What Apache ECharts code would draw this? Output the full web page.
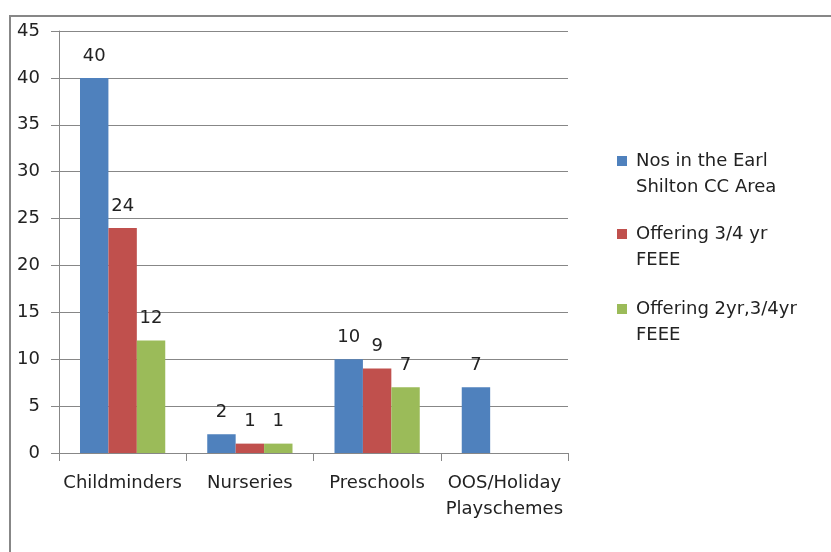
<!DOCTYPE html>
<html>
<head>
<meta charset="utf-8">
<script src="https://cdn.jsdelivr.net/npm/echarts@6/dist/echarts.min.js"></script>
<style>
  html, body { margin: 0; padding: 0; background: #fff; }
  #chart { width: 831px; height: 552px; }
</style>
</head>
<body>
<div id="chart"></div>
<script>
const categories = ['Childminders', 'Nurseries', 'Preschools', 'OOS/Holiday\nPlayschemes']
const seriesNames = [
  'Nos in the Earl\nShilton CC Area',
  'Offering 3/4 yr\nFEEE',
  'Offering 2yr,3/4yr\nFEEE',
]
const nosInArea = [40, 2, 10, 7]
const offering34 = [24, 1, 9, null]
const offering234 = [12, 1, 7, null]
const colors = ['#4F81BD', '#C0504D', '#9BBB59']

const font = 'DejaVu Sans'
const textColor = '#222'
const lineColor = '#878787'

const chart = echarts.init(document.getElementById('chart'))

const values = [nosInArea, offering34, offering234]
const legendTops = [122, 195, 270]

chart.setOption({
  animation: false,
  textStyle: { fontFamily: font },
  grid: { left: 59, top: 31, right: 263, bottom: 99 },
  // one legend per item so the square lines up with the first text line
  legend: seriesNames.map((name, i) => ({
    data: [name],
    orient: 'vertical',
    left: 617,
    top: legendTops[i],
    padding: 0,
    itemWidth: 10,
    itemHeight: 10,
    icon: 'rect',
    selectedMode: false,
    formatter: (n) => '\n' + n,
    textStyle: {
      fontFamily: font,
      fontSize: 18,
      color: textColor,
      lineHeight: 26,
      padding: [0, 0, 0, 4],
    },
  })),
  xAxis: {
    type: 'category',
    data: categories,
    axisLine: { lineStyle: { color: lineColor, width: 1 } },
    axisTick: { show: true, length: 8, lineStyle: { color: lineColor } },
    axisLabel: {
      fontFamily: font,
      fontSize: 18,
      color: textColor,
      margin: 17,
      lineHeight: 26,
      interval: 0,
    },
  },
  yAxis: {
    type: 'value',
    min: 0,
    max: 45,
    interval: 5,
    axisLine: { show: true, lineStyle: { color: lineColor } },
    axisTick: { show: true, length: 8, lineStyle: { color: lineColor } },
    splitLine: { lineStyle: { color: lineColor } },
    axisLabel: { fontFamily: font, fontSize: 18, color: textColor, margin: 19 },
  },
  graphic: [
    {
      type: 'rect',
      shape: { x: 10, y: 16, width: 830, height: 560 },
      style: { fill: 'none', stroke: lineColor, lineWidth: 2 },
      silent: true,
    },
  ],
  series: seriesNames.map((name, i) => ({
    name: name,
    type: 'bar',
    data: values[i],
    barGap: 0,
    barCategoryGap: '33%',
    itemStyle: { color: colors[i] },
    label: {
      show: true,
      position: 'top',
      distance: 13,
      fontFamily: font,
      fontSize: 18,
      color: textColor,
    },
  })),
})
</script>
</body>
</html>
